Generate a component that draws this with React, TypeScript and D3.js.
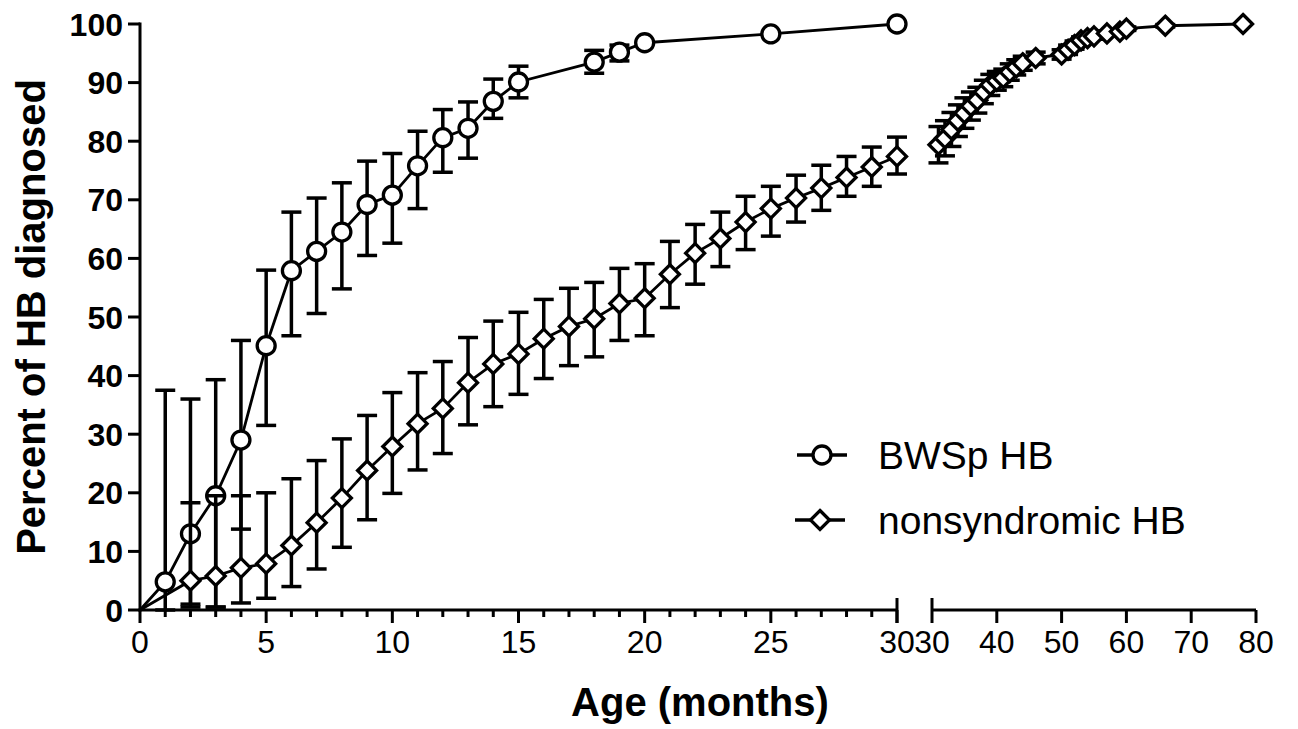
import React from 'react';
import * as d3 from 'd3';

// BWSp HB (circles) - months, percent diagnosed, 95% CI
const bwsMonths = [0, 1, 2, 3, 4, 5, 6, 7, 8, 9, 10, 11, 12, 13, 14, 15, 18, 19, 20, 25, 30];
const bwsValues = [0, 4.8, 13, 19.5, 29, 45.1, 57.9, 61.2, 64.5, 69.2, 70.8, 75.8, 80.6, 82.2, 86.8, 90.1, 93.5, 95.2, 96.8, 98.3, 100];
const bwsLower = [0, 0, 0.5, 0.5, 13.8, 31.5, 46.8, 50.6, 54.8, 60.5, 62.6, 68.5, 74.7, 77.1, 83.9, 87.4, 91.6, 93.7, 96.8, 98.3, 100];
const bwsUpper = [0, 37.5, 36, 39.3, 46, 58, 67.9, 70.3, 72.9, 76.6, 77.9, 81.7, 85.4, 86.7, 90.6, 92.8, 95.5, 96.4, 96.8, 98.3, 100];

// nonsyndromic HB (diamonds), first axis segment 0-30 months
const nsMonths = [0, 2, 3, 4, 5, 6, 7, 8, 9, 10, 11, 12, 13, 14, 15, 16, 17, 18, 19, 20, 21, 22, 23, 24, 25, 26, 27, 28, 29, 30];
const nsValues = [0, 5, 5.8, 7.2, 7.9, 11, 14.9, 19.1, 23.8, 27.9, 31.8, 34.4, 38.8, 42, 43.7, 46.3, 48.4, 49.7, 52.3, 53.2, 57.3, 60.9, 63.4, 66.2, 68.5, 70.3, 72, 73.8, 75.6, 77.4];
const nsLower = [0, 1, 0.5, 1.2, 2, 4, 7, 10.7, 15.4, 19.9, 23.9, 26.7, 31.6, 34.7, 36.8, 39.5, 41.7, 43.2, 46, 46.8, 51.6, 55.6, 58.6, 61.5, 63.8, 66.2, 68.2, 70.6, 72.3, 74.4];
const nsUpper = [0, 18.3, 19.5, 19.5, 20, 22.4, 25.5, 29.2, 33.2, 37.1, 40.5, 42.4, 46.5, 49.3, 50.8, 53, 54.9, 55.9, 58.3, 59.1, 62.9, 65.8, 67.9, 70.6, 72.3, 74.2, 75.9, 77.4, 79, 80.7];

// nonsyndromic HB, second axis segment 30-80 months
const nsMonths2 = [31, 32, 33, 34, 35, 36, 37, 38, 39, 40, 41, 42, 43, 44, 46, 50, 51, 52, 53, 54, 55, 57, 59, 60, 66, 78];
const nsValues2 = [79.4, 80.5, 82, 83.5, 84.8, 86, 87, 88.4, 89.6, 90.3, 90.8, 91.8, 92.6, 93.3, 94.2, 94.8, 95.6, 96.4, 97.2, 97.6, 97.9, 98.4, 98.7, 99.2, 99.7, 100];
const nsErr2 = [3.1, 3, 2.9, 2.7, 2.6, 2.4, 2.2, 2, 1.8, 1.6, 1.5, 1.4, 1.3, 1.2, 1, 0.8, 0.8, 0.7, 0.6, 0.5, 0.5, 0.4, 0.3, 0.3, 0.2, 0];

const yTicks = [0, 10, 20, 30, 40, 50, 60, 70, 80, 90, 100];
const seriesNames = ['BWSp HB', 'nonsyndromic HB'];

const W = 1298;
const H = 729;
const font = 'Liberation Sans, Arial, sans-serif';

export default function App() {
  const y = d3.scaleLinear().domain([0, 100]).range([610, 24]);
  const xL = d3.scaleLinear().domain([0, 30]).range([140, 897]);
  const xR = d3.scaleLinear().domain([30, 80]).range([932, 1256]);
  const y0 = y(0);

  const line = (xs: (v: number) => number) =>
    d3.line<[number, number]>().x(d => xs(d[0])).y(d => y(d[1]));

  const circle = (cx: number, cy: number, key: string) => (
    <circle key={key} cx={cx} cy={cy} r={9} fill="#fff" stroke="#000" strokeWidth={3.3} />
  );
  const diamond = (cx: number, cy: number, key: string) => (
    <path key={key} d={`M${cx},${cy - 9.5}L${cx + 9.5},${cy}L${cx},${cy + 9.5}L${cx - 9.5},${cy}Z`}
      fill="#fff" stroke="#000" strokeWidth={3.3} strokeLinejoin="miter" />
  );
  const errBar = (cx: number, lo: number, hi: number, key: string) => {
    if (hi - lo < 0.01) return null;
    const a = y(lo), b = y(hi);
    return (
      <g key={key} stroke="#000" strokeWidth={3.5}>
        <line x1={cx} x2={cx} y1={a} y2={b} />
        <line x1={cx - 10} x2={cx + 10} y1={a} y2={a} />
        <line x1={cx - 10} x2={cx + 10} y1={b} y2={b} />
      </g>
    );
  };

  const bwsPts = bwsMonths.map((m, i) => [m, bwsValues[i]] as [number, number]);
  const nsPts = nsMonths.map((m, i) => [m, nsValues[i]] as [number, number]);
  const nsPts2 = nsMonths2.map((m, i) => [m, nsValues2[i]] as [number, number]);

  const minorTicks = xL.ticks(30);
  const rightTicks = xR.ticks(5);

  return (
    <svg width={W} height={H} style={{ position: 'absolute', left: 0, top: 0, background: '#fff' }}>
      <rect width={W} height={H} fill="#fff" />

      {/* y axis */}
      <g>
        <line x1={140} x2={140} y1={y(100) - 1.5} y2={y0 + 1.5} stroke="#000" strokeWidth={3} />
        {yTicks.map(t => (
          <g key={t}>
            <line x1={128} x2={140} y1={y(t)} y2={y(t)} stroke="#000" strokeWidth={3} />
            <text x={123} y={y(t)} dy="0.36em" textAnchor="end" fontFamily={font} fontWeight="bold" fontSize={32}>{t}</text>
          </g>
        ))}
        <text transform={`translate(45,${y(50)}) rotate(-90)`} textAnchor="middle" fontFamily={font} fontWeight="bold" fontSize={40}>Percent of HB diagnosed</text>
      </g>

      {/* x axis */}
      <g stroke="#000" strokeWidth={3}>
        <line x1={138.5} x2={xL(30)} y1={y0} y2={y0} />
        {minorTicks.map(t => (
          <line key={t} x1={xL(t)} x2={xL(t)} y1={y0} y2={y0 + (t % 5 === 0 ? 13 : 7)} />
        ))}
        <line x1={xL(30)} x2={xL(30)} y1={y0 - 12} y2={y0 + 13} />
        <line x1={xR(30)} x2={xR(80)} y1={y0} y2={y0} />
        {rightTicks.map(t => (
          <line key={'r' + t} x1={xR(t)} x2={xR(t)} y1={t === 30 ? y0 - 12 : y0} y2={y0 + 13} />
        ))}
      </g>
      <g fontFamily={font} fontSize={32} textAnchor="middle">
        {minorTicks.filter(t => t % 5 === 0).map(t => (
          <text key={t} x={xL(t)} y={653}>{t}</text>
        ))}
        {rightTicks.map(t => (
          <text key={'r' + t} x={xR(t)} y={653}>{t}</text>
        ))}
      </g>
      <text x={(xL(0) + xR(80)) / 2 + 2} y={716} textAnchor="middle" fontFamily={font} fontWeight="bold" fontSize={40}>Age (months)</text>

      {/* BWSp HB */}
      <g>
        {bwsMonths.map((m, i) => errBar(xL(m), bwsLower[i], bwsUpper[i], 'be' + i))}
        <path d={line(xL)(bwsPts) || ''} fill="none" stroke="#000" strokeWidth={2.8} />
        {bwsMonths.map((m, i) => (m > 0 ? circle(xL(m), y(bwsValues[i]), 'bc' + i) : null))}
      </g>

      {/* nonsyndromic HB */}
      <g>
        {nsMonths.map((m, i) => errBar(xL(m), nsLower[i], nsUpper[i], 'ne' + i))}
        <path d={line(xL)(nsPts) || ''} fill="none" stroke="#000" strokeWidth={2.8} />
        {nsMonths.map((m, i) => (m > 0 ? diamond(xL(m), y(nsValues[i]), 'nd' + i) : null))}
        {nsMonths2.map((m, i) => errBar(xR(m), nsValues2[i] - nsErr2[i], Math.min(100, nsValues2[i] + nsErr2[i]), 'ne2' + i))}
        <path d={line(xR)(nsPts2) || ''} fill="none" stroke="#000" strokeWidth={2.8} />
        {nsMonths2.map((m, i) => diamond(xR(m), y(nsValues2[i]), 'nd2' + i))}
      </g>

      {/* legend */}
      <g>
        <line x1={797} x2={847} y1={455} y2={455} stroke="#000" strokeWidth={3.3} />
        {circle(822, 455, 'lc')}
        <text x={878} y={455} dy="0.36em" fontFamily={font} fontSize={39}>{seriesNames[0]}</text>
        <line x1={795} x2={845} y1={520} y2={520} stroke="#000" strokeWidth={3.3} />
        {diamond(820, 520, 'ld')}
        <text x={878} y={520} dy="0.36em" fontFamily={font} fontSize={39}>{seriesNames[1]}</text>
      </g>
    </svg>
  );
}
